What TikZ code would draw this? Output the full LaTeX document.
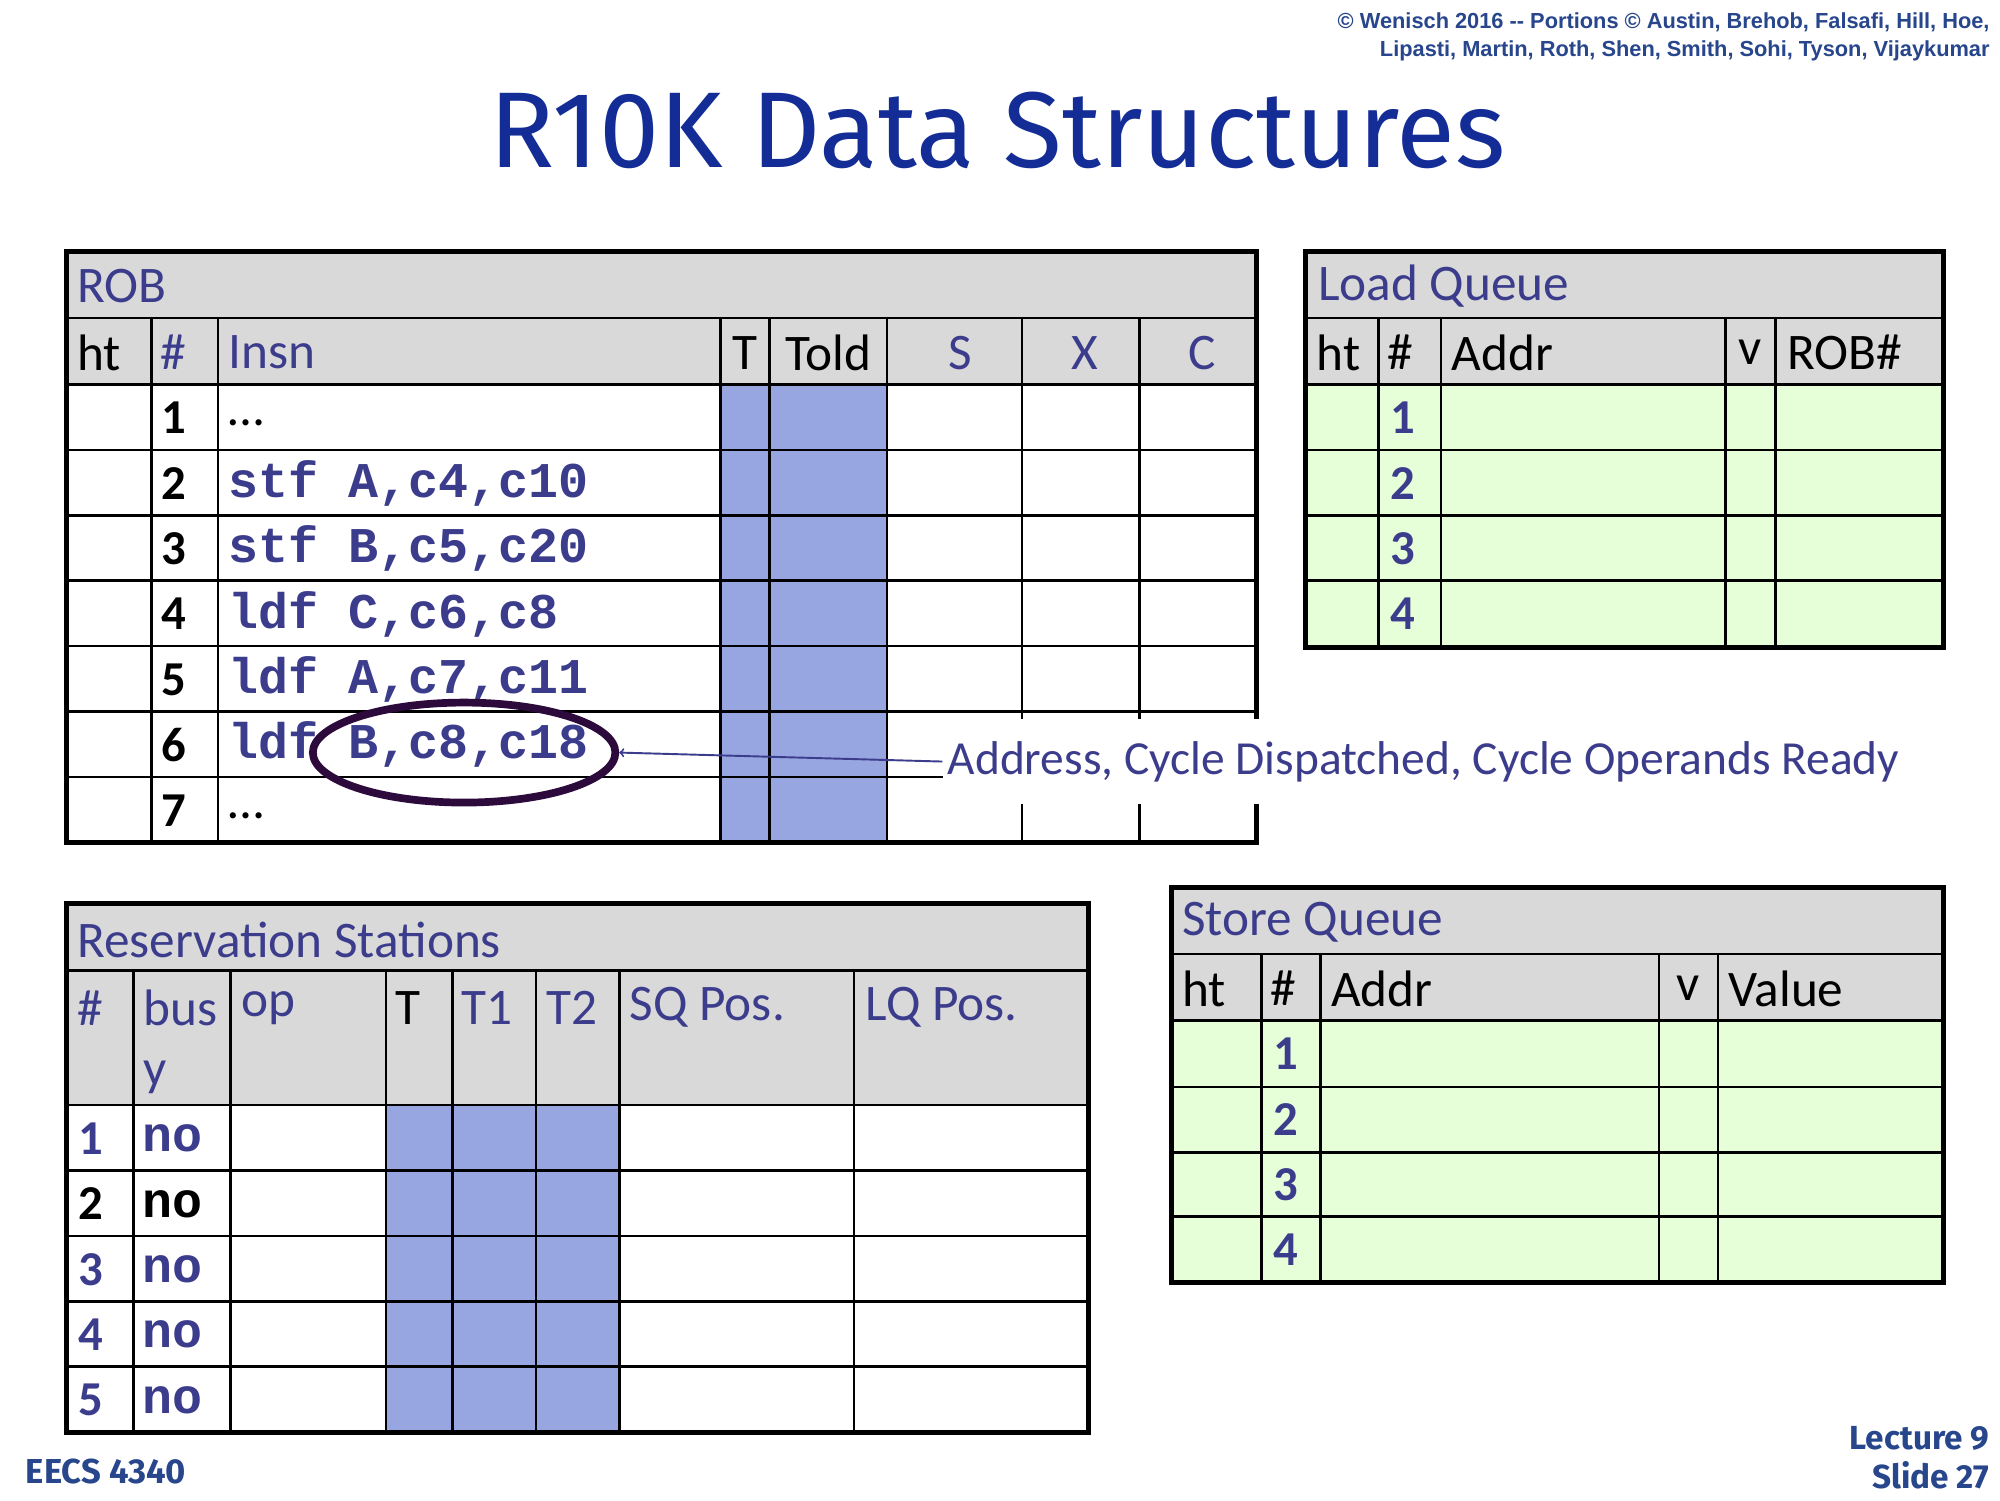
\documentclass[tikz,border=0pt]{standalone}
\usepackage{fontspec}
\usetikzlibrary{shapes.geometric}
\setmainfont{Carlito}
\newfontfamily\codef{Liberation Mono}
\newfontfamily\titlef{Fira Sans}
\newfontfamily\arialf{Liberation Sans}
\definecolor{tblue}{RGB}{20,45,150}
\definecolor{pur}{RGB}{60,60,140}
\definecolor{hdr}{RGB}{217,217,217}
\definecolor{bl}{RGB}{151,166,224}
\definecolor{gr}{RGB}{230,255,217}
\definecolor{ell}{RGB}{45,10,60}
\definecolor{foot}{RGB}{40,70,140}
\tikzset{
 grid/.style={line width=2pt,black},
 outer/.style={line width=4pt,black},
 txt/.style={anchor=west,inner sep=0pt,font=\fontsize{40}{44}\selectfont},
 ctxt/.style={inner sep=0pt,font=\fontsize{40}{44}\selectfont},
 code/.style={anchor=west,inner sep=0pt,font=\codef\bfseries\fontsize{39}{44}\selectfont},
 num/.style={anchor=west,inner sep=0pt,font=\bfseries\fontsize{38}{44}\selectfont}
}
\begin{document}
\begin{tikzpicture}[x=1pt,y=-1pt]
\useasboundingbox (0,0) rectangle (1560,1170);
\fill[white] (0,0) rectangle (1560,1170);
% copyright
\node[anchor=east,inner sep=0pt,align=right,text=foot,font=\arialf\bfseries\fontsize{17}{22}\selectfont] (copy) at (1552,29) {© Wenisch 2016 -- Portions © Austin, Brehob, Falsafi, Hill, Hoe,\\Lipasti, Martin, Roth, Shen, Smith, Sohi, Tyson, Vijaykumar};
\node[text=tblue,font=\titlef\fontsize{84}{90}\selectfont,inner sep=0pt] (title) at (778,102) {R10K Data Structures};
% ===== ROB =====
\fill[hdr] (52,196) rectangle (980,300);
\fill[bl] (562,300) rectangle (692,657);
\foreach \y in {248,300,351,402,453,504,555,606} \draw[grid] (52,\y) -- (980,\y);
\draw[grid] (52,248) -- (980,248);
\foreach \x in {118,170,562,600,692,797,889} \draw[grid] (\x,248) -- (\x,657);
\draw[outer] (52,196) rectangle (980,657);
\node[txt,text=pur] (robt) at (60,223) {ROB};
\node[txt] (rh1) at (60,275) {ht};
\node[txt,text=pur] (rh2) at (125,275) {\#};
\node[txt,text=pur] (rh3) at (178,275) {Insn};
\node[ctxt] (rh4) at (581,275) {T};
\node[ctxt] (rh5) at (646,275) {Told};
\node[ctxt,text=pur] (rh6) at (749,275) {S};
\node[ctxt,text=pur] (rh7) at (846,275) {X};
\node[ctxt,text=pur] (rh8) at (938,275) {C};
\foreach \i/\y in {1/326,2/377,3/428,4/479,5/530,6/581,7/632} \node[num] (rn\i) at (126,\y) {\i};
\node[txt] (rc1) at (178,330) {\dots};
\node[code,text=pur] (rc2) at (178,377) {stf A,c4,c10};
\node[code,text=pur] (rc3) at (178,428) {stf B,c5,c20};
\node[code,text=pur] (rc4) at (178,479) {ldf C,c6,c8};
\node[code,text=pur] (rc5) at (178,530) {ldf A,c7,c11};
\node[code,text=pur] (rc6) at (178,581) {ldf B,c8,c18};
\node[txt] (rc7) at (178,636) {\dots};
\node[draw=ell,line width=6pt,ellipse,minimum width=236pt,minimum height=78pt,inner sep=0pt] (el) at (362,587) {};
\node[anchor=west,fill=white,inner sep=4pt,text=pur,font=\fontsize{37}{40}\selectfont,minimum height=66pt] (ann) at (735,594) {Address, Cycle Dispatched, Cycle Operands Ready};
\draw[line width=1.5pt,pur,->] (ann.west) -- (el.east);
% ===== Load Queue =====
\fill[hdr] (1018,196) rectangle (1516,300);
\fill[gr] (1018,300) rectangle (1516,505);
\foreach \y in {248,300,351,402,453} \draw[grid] (1018,\y) -- (1516,\y);
\foreach \x in {1075,1124,1346,1385} \draw[grid] (\x,248) -- (\x,505);
\draw[outer] (1018,196) rectangle (1516,505);
\node[txt,text=pur] (lqt) at (1028,223) {Load Queue};
\node[txt] (lh1) at (1027,275) {ht};
\node[txt] (lh2) at (1082,275) {\#};
\node[txt] (lh3) at (1132,275) {Addr};
\node[ctxt] (lh4) at (1365,275) {v};
\node[txt] (lh5) at (1394,275) {ROB\#};
\foreach \i/\y in {1/326,2/377,3/428,4/479} \node[num,text=pur] (ln\i) at (1084,\y) {\i};
% ===== Store Queue =====
\fill[hdr] (914,692) rectangle (1516,796);
\fill[gr] (914,796) rectangle (1516,1000);
\foreach \y in {744,796,848,899,949} \draw[grid] (914,\y) -- (1516,\y);
\foreach \x in {984,1030,1294,1340} \draw[grid] (\x,744) -- (\x,1000);
\draw[outer] (914,692) rectangle (1516,1000);
\node[txt,text=pur] (sqt) at (922,719) {Store Queue};
\node[txt] (sh1) at (922,771) {ht};
\node[txt] (sh2) at (991,771) {\#};
\node[txt] (sh3) at (1038,771) {Addr};
\node[ctxt] (sh4) at (1317,771) {v};
\node[txt] (sh5) at (1348,771) {Value};
\foreach \i/\y in {1/822,2/873,3/924,4/975} \node[num,text=pur] (sn\i) at (993,\y) {\i};
% ===== Reservation Stations =====
\fill[hdr] (52,705) rectangle (849,862);
\fill[bl] (301,862) rectangle (483,1117);
\foreach \y in {757,862,913,964,1015,1066} \draw[grid] (52,\y) -- (849,\y);
\foreach \x in {104,180,301,353,418,483,666} \draw[grid] (\x,757) -- (\x,1117);
\draw[outer] (52,705) rectangle (849,1117);
\node[txt,text=pur] (rst) at (60,733) {Reservation Stations};
\node[txt,text=pur] (rsh) at (60,786) {\#};
\node[txt,text=pur,align=left] (sb) at (112,786) {bus};
\node[txt,text=pur] (sby) at (112,840) {y};
\node[txt,text=pur] (sop) at (188,786) {op};
\node[txt] (sT) at (308,786) {T};
\node[txt,text=pur] (sT1) at (360,786) {T1};
\node[txt,text=pur] (sT2) at (426,786) {T2};
\node[txt,text=pur] (ssq) at (491,786) {SQ Pos.};
\node[txt,text=pur] (slq) at (675,786) {LQ Pos.};
\foreach \i/\y/\c in {1/888/pur,2/939/black,3/990/pur,4/1041/pur,5/1092/pur} {
 \node[num,text=\c] (sr\i) at (61,\y) {\i};
 \node[code,text=\c] (sno\i) at (111,\y) {no};
}
% footer
\node[anchor=west,inner sep=0pt,text=foot,font=\titlef\bfseries\fontsize{27}{30}\selectfont] (eecs) at (20,1148) {EECS 4340};
\node[anchor=east,inner sep=0pt,align=right,text=foot,font=\titlef\bfseries\fontsize{26}{30}\selectfont] (lec) at (1552,1137) {Lecture 9\\Slide 27};
\end{tikzpicture}
\end{document}
